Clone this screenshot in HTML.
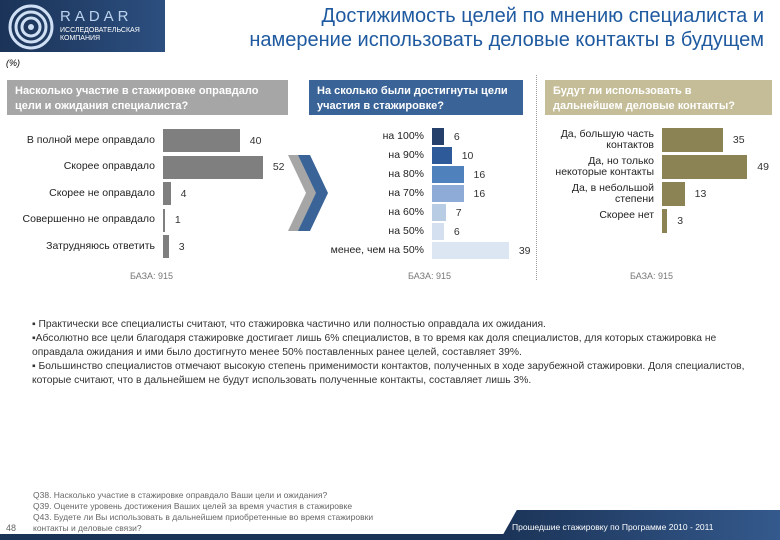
<!DOCTYPE html>
<html><head><meta charset="utf-8"><style>
body{margin:0;width:780px;height:540px;overflow:hidden;background:#fff;font-family:"Liberation Sans","DejaVu Sans",sans-serif;position:relative}
.a{position:absolute}
.hdr{color:#fff;font-size:11px;line-height:15px;padding:4px 8px;box-sizing:border-box;font-weight:bold}
.lbl{position:absolute;font-size:10.5px;color:#222;text-align:right;line-height:11px}
.val{position:absolute;font-size:10.5px;color:#333}
.bar{position:absolute}
</style></head><body>
<div class="a" style="left:0;top:0;width:165px;height:52px;background:linear-gradient(90deg,#1b3357,#2c4f80)"></div>
<svg class="a" style="left:8px;top:4px" width="46" height="46">
<circle cx="23" cy="23" r="21" fill="none" stroke="#cfe0f5" stroke-width="3"/><circle cx="23" cy="23" r="15" fill="none" stroke="#cfe0f5" stroke-width="3"/><circle cx="23" cy="23" r="9" fill="none" stroke="#cfe0f5" stroke-width="3"/><circle cx="23" cy="23" r="3" fill="#cfe0f5"/></svg>
<div class="a" style="left:60px;top:8px;color:#bcd3ef;font-size:15px;letter-spacing:4px">RADAR</div>
<div class="a" style="left:60px;top:27px;color:#fff;font-size:7px;line-height:8px">ИССЛЕДОВАТЕЛЬСКАЯ<br>КОМПАНИЯ</div>
<div class="a" style="right:16px;top:4px;color:#1f5aa0;font-size:20px;line-height:24px;text-align:right;width:640px;white-space:nowrap">Достижимость целей по мнению специалиста и<br>намерение использовать деловые контакты в будущем</div>
<div class="a" style="left:6px;top:58px;font-size:9px;font-style:italic">(%)</div>

<div class="a hdr" style="left:7px;top:80px;width:281px;height:35px;background:#a6a6a6">Насколько участие в стажировке оправдало цели и ожидания специалиста?</div>
<div class="a hdr" style="left:309px;top:80px;width:214px;height:35px;background:#3a6497">На сколько были достигнуты цели участия в стажировке?</div>
<div class="a hdr" style="left:545px;top:80px;width:227px;height:35px;background:#c4bd97">Будут ли использовать в дальнейшем деловые контакты?</div>
<div class="a" style="left:536px;top:75px;height:205px;border-left:1px dotted #999"></div>
<svg class="a" style="left:288px;top:155px" width="40" height="76">
<polygon points="0,0 12,0 30,38 12,76 0,76 18,38" fill="#a6a6a6"/><polygon points="10,0 22,0 40,38 22,76 10,76 28,38" fill="#3a6497"/></svg>

<div class="a" style="left:130px;top:271px;font-size:9px;color:#777">БАЗА: 915</div>
<div class="a" style="left:408px;top:271px;font-size:9px;color:#777">БАЗА: 915</div>
<div class="a" style="left:630px;top:271px;font-size:9px;color:#777">БАЗА: 915</div>

<div id="charts"></div>

<div class="a" style="left:32px;top:318px;width:730px;font-size:10.3px;line-height:14px;color:#333">
▪ Практически все специалисты считают, что стажировка частично или полностью оправдала их ожидания.<br>
▪Абсолютно все цели благодаря стажировке достигает лишь 6% специалистов, в то время как доля специалистов, для которых стажировка не оправдала ожидания и ими было достигнуто менее 50% поставленных ранее целей, составляет 39%.<br>
▪ Большинство специалистов отмечают высокую степень применимости контактов, полученных в ходе зарубежной стажировки. Доля специалистов, которые считают, что в дальнейшем не будут использовать полученные контакты, составляет лишь 3%.</div>

<div class="a" style="left:33px;top:490px;font-size:8.5px;line-height:11px;color:#666">Q38. Насколько участие в стажировке оправдало Ваши цели и ожидания?<br>Q39. Оцените уровень достижения Ваших целей за время участия в стажировке<br>Q43. Будете ли Вы использовать в дальнейшем приобретенные во время стажировки<br>контакты и деловые связи?</div>
<div class="a" style="left:6px;top:523px;font-size:9px;color:#666">48</div>
<div class="a" style="left:0;top:534px;width:780px;height:6px;background:#1b3357"></div>
<div class="a" style="left:500px;top:510px;width:280px;height:30px;background:linear-gradient(90deg,#1b3357,#34598c);clip-path:polygon(6% 0,100% 0,100% 100%,0 100%)"></div>
<div class="a" style="left:512px;top:522px;font-size:8.5px;color:#fff">Прошедшие стажировку по Программе 2010 - 2011</div>

<script>
const cats1=["В полной мере оправдало","Скорее оправдало","Скорее не оправдало","Совершенно не оправдало","Затрудняюсь ответить"];
const vals1=[40,52,4,1,3];
const cats2=["на 100%","на 90%","на 80%","на 70%","на 60%","на 50%","менее, чем на 50%"];
const vals2=[6,10,16,16,7,6,39];
const cats3=["Да, большую часть контактов","Да, но только некоторые контакты","Да, в небольшой степени","Скорее нет"];
const vals3=[35,49,13,3];
const cols2=["#24406b","#2f5a99","#4f81bd","#8eaad6","#b8cce4","#d4e0f0","#dce6f2"];
const root=document.getElementById('charts');
function chart(cats,vals,x0,y0,pitch,h,scale,colorFn,lblW,name,lblH){
  cats.forEach((c,i)=>{
    const y=y0+i*pitch;
    const b=document.createElement('div');b.className='bar';
    
    
    b.style.cssText=`left:${x0}px;top:${y}px;width:${vals[i]*scale}px;height:${h}px;background:${colorFn(i)}`;
    root.appendChild(b);
    const v=document.createElement('div');v.className='val';
    
    
    v.textContent=vals[i];
    v.style.cssText+=`left:${x0+vals[i]*scale+10}px;top:${y+h/2-6}px`;
    root.appendChild(v);
    const l=document.createElement('div');l.className='lbl';
    
    
    l.textContent=c;
    l.style.cssText+=`left:${x0-lblW-8}px;width:${lblW}px;top:${y+h/2-(lblH||6)}px`;
    root.appendChild(l);
  });
}
chart(cats1,vals1,163,129,26.5,23,1.92,()=>"#7f7f7f",150,'q38');
chart(cats2,vals2,432,128,19,17,1.97,i=>cols2[i],120,'q39');
chart(cats3,vals3,662,128,27,24,1.74,()=>"#8c8354",110,'q43',11);
</script>
</body></html>
